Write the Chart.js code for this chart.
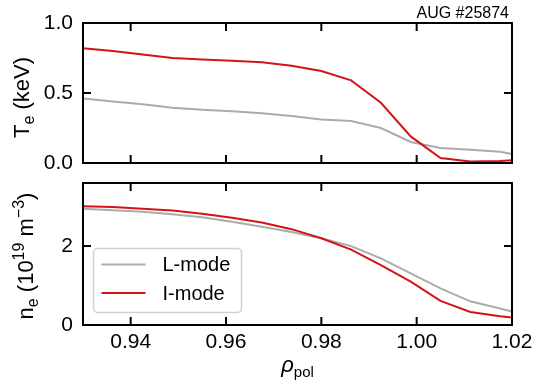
<!DOCTYPE html>
<html>
<head>
<meta charset="utf-8">
<script src="https://cdn.jsdelivr.net/npm/chart.js@4.4.0/dist/chart.umd.min.js"></script>
<style>
  body { margin: 0; background: #fff; }
  #wrap { position: relative; width: 535px; height: 382px; }
  #top { position: absolute; left: 0; top: 0; width: 535px; height: 175px; }
  #bot { position: absolute; left: 0; top: 175px; width: 535px; height: 207px; }
</style>
</head>
<body>
<div id="wrap">
  <div id="top"><canvas id="teChart"></canvas></div>
  <div id="bot"><canvas id="neChart"></canvas></div>
</div>
<script>
// rho_pol grid
var rho = [0.93, 0.93625, 0.9425, 0.94875, 0.955, 0.96125, 0.9675, 0.97375,
           0.98, 0.98625, 0.9925, 0.99875, 1.005, 1.01125, 1.0175, 1.02];
// electron temperature (keV)
var teLmode = [0.46, 0.44, 0.42, 0.395, 0.38, 0.37, 0.355, 0.335,
               0.31, 0.30, 0.25, 0.15, 0.107, 0.095, 0.08, 0.065];
var teImode = [0.82, 0.80, 0.775, 0.75, 0.74, 0.73, 0.72, 0.695,
               0.657, 0.59, 0.43, 0.19, 0.035, 0.01, 0.015, 0.02];
// electron density (1e19 m^-3)
var neLmode = [2.95, 2.91, 2.87, 2.81, 2.73, 2.62, 2.49, 2.36,
               2.20, 2.00, 1.69, 1.31, 0.93, 0.60, 0.42, 0.34];
var neImode = [3.01, 2.99, 2.95, 2.90, 2.82, 2.72, 2.60, 2.43,
               2.20, 1.91, 1.52, 1.10, 0.61, 0.33, 0.22, 0.19];

var xTicks = [0.94, 0.96, 0.98, 1.00, 1.02];
var teTicks = [0.0, 0.5, 1.0];
var neTicks = [0, 2];

var FONT = '"Liberation Sans", Arial, Helvetica, sans-serif';
var GREY = '#ababab';
var RED = '#d2141a';

function toXY(xs, ys) {
  return xs.map(function(x, i) { return { x: x, y: ys[i] }; });
}

function setFont(ctx, p) {
  ctx.font = (p.italic ? 'italic ' : '') + p.size + 'px ' + FONT;
}

function richWidth(ctx, parts) {
  var w = 0;
  parts.forEach(function(p) { setFont(ctx, p); w += ctx.measureText(p.text).width; });
  return w;
}

function drawRich(ctx, parts, x, y) {
  parts.forEach(function(p) {
    setFont(ctx, p);
    ctx.fillText(p.text, x, y + (p.dy || 0));
    x += ctx.measureText(p.text).width;
  });
}

// no extra room for half tick labels, the frame is placed by hand
function noPad(s) {
  s.paddingTop = 0; s.paddingBottom = 0; s.paddingLeft = 0; s.paddingRight = 0;
}

var framePlugin = {
  id: 'frame',
  afterDatasetsDraw: function(chart, args, opts) {
    var ctx = chart.ctx, a = chart.chartArea;
    var xs = chart.scales.x, ys = chart.scales.y;
    ctx.save();
    ctx.strokeStyle = '#000';
    ctx.lineWidth = 2;
    // inward ticks on all four sides
    ctx.beginPath();
    xs.ticks.forEach(function(t) {
      var px = xs.getPixelForValue(t.value);
      ctx.moveTo(px, a.bottom); ctx.lineTo(px, a.bottom - 8);
      ctx.moveTo(px, a.top); ctx.lineTo(px, a.top + 8);
    });
    ys.ticks.forEach(function(t) {
      var py = ys.getPixelForValue(t.value);
      ctx.moveTo(a.left, py); ctx.lineTo(a.left + 8, py);
      ctx.moveTo(a.right, py); ctx.lineTo(a.right - 8, py);
    });
    ctx.stroke();
    ctx.strokeRect(a.left, a.top, a.right - a.left, a.bottom - a.top);

    ctx.fillStyle = '#000';
    ctx.textBaseline = 'alphabetic';
    ctx.textAlign = 'left';

    // y axis title (rotated)
    if (opts.yTitle) {
      var w = richWidth(ctx, opts.yTitle);
      ctx.save();
      ctx.translate(opts.yTitleX, opts.yTitleY);
      ctx.rotate(-Math.PI / 2);
      drawRich(ctx, opts.yTitle, -w / 2, 0);
      ctx.restore();
    }
    // x axis title
    if (opts.xTitle) {
      var wx = richWidth(ctx, opts.xTitle);
      drawRich(ctx, opts.xTitle, (a.left + a.right) / 2 - wx / 2, opts.xTitleY);
    }
    // shot label
    if (opts.label) {
      ctx.font = '16px ' + FONT;
      ctx.textAlign = 'right';
      ctx.fillText(opts.label, a.right - 3, a.top - 5);
      ctx.textAlign = 'left';
    }
    // legend
    if (opts.legend) {
      var lg = opts.legend;
      ctx.fillStyle = 'rgba(255,255,255,0.85)';
      ctx.strokeStyle = '#d0d0d0';
      ctx.lineWidth = 1.5;
      ctx.beginPath();
      ctx.roundRect(lg.x, lg.y, lg.w, lg.h, 4);
      ctx.fill();
      ctx.stroke();
      chart.data.datasets.forEach(function(ds, i) {
        var yy = lg.y + 16 + i * 28.5;
        ctx.strokeStyle = ds.borderColor;
        ctx.lineWidth = 2;
        ctx.beginPath();
        ctx.moveTo(lg.x + 8, yy);
        ctx.lineTo(lg.x + 52, yy);
        ctx.stroke();
        ctx.fillStyle = '#000';
        ctx.font = '20px ' + FONT;
        ctx.textBaseline = 'middle';
        ctx.fillText(ds.label, lg.x + 69, yy + 1);
      });
    }
    ctx.restore();
  }
};

function makeChart(id, lData, iData, yMin, yMax, yTickList, yFmt, showX, frameOpts, padTop, xHeight) {
  return new Chart(document.getElementById(id), {
    type: 'line',
    data: {
      datasets: [
        { label: 'L-mode', data: toXY(rho, lData), borderColor: GREY, borderWidth: 2,
          pointRadius: 0, tension: 0, fill: false, order: 2 },
        { label: 'I-mode', data: toXY(rho, iData), borderColor: RED, borderWidth: 2,
          pointRadius: 0, tension: 0, fill: false, order: 1 }
      ]
    },
    options: {
      responsive: true,
      maintainAspectRatio: false,
      animation: false,
      layout: { padding: { top: padTop, right: 23, left: 0, bottom: 0 } },
      plugins: {
        legend: { display: false },
        tooltip: { enabled: false },
        frame: frameOpts
      },
      scales: {
        x: {
          type: 'linear',
          min: 0.93,
          max: 1.02,
          grid: { display: false, drawTicks: false },
          border: { display: false },
          afterBuildTicks: function(s) { s.ticks = xTicks.map(function(v) { return { value: v }; }); },
          afterFit: function(s) { s.height = xHeight; noPad(s); },
          ticks: {
            display: showX,
            color: '#000',
            padding: 5,
            maxRotation: 0,
            font: { family: FONT, size: 21 },
            callback: function(v) { return v.toFixed(2); }
          }
        },
        y: {
          min: yMin,
          max: yMax,
          grid: { display: false, drawTicks: false },
          border: { display: false },
          afterBuildTicks: function(s) { s.ticks = yTickList.map(function(v) { return { value: v }; }); },
          afterFit: function(s) { s.width = 83; noPad(s); },
          ticks: {
            color: '#000',
            padding: 10,
            font: { family: FONT, size: 21 },
            callback: yFmt
          }
        }
      }
    },
    plugins: [framePlugin]
  });
}

makeChart('teChart', teLmode, teImode, 0, 1, teTicks,
  function(v) { return v.toFixed(1); }, false,
  {
    yTitle: [{ text: 'T', size: 22 }, { text: 'e', size: 16, dy: 5 }, { text: ' (keV)', size: 22 }],
    yTitleX: 28.5, yTitleY: 97.5,
    label: 'AUG #25874'
  }, 23, 12);

makeChart('neChart', neLmode, neImode, 0, 3.6, neTicks,
  function(v) { return String(v); }, true,
  {
    yTitle: [{ text: 'n', size: 22 }, { text: 'e', size: 16, dy: 5 }, { text: ' (10', size: 22 },
             { text: '19', size: 16, dy: -9 }, { text: ' m', size: 22 }, { text: '\u22123', size: 16, dy: -9 },
             { text: ')', size: 22 }],
    yTitleX: 33, yTitleY: 81,
    xTitle: [{ text: '\u03c1', size: 22, italic: true }, { text: 'pol', size: 15, dy: 5 }],
    xTitleY: 197,
    legend: { x: 93.5, y: 73.5, w: 148, h: 64 }
  }, 8, 57);
</script>
</body>
</html>
